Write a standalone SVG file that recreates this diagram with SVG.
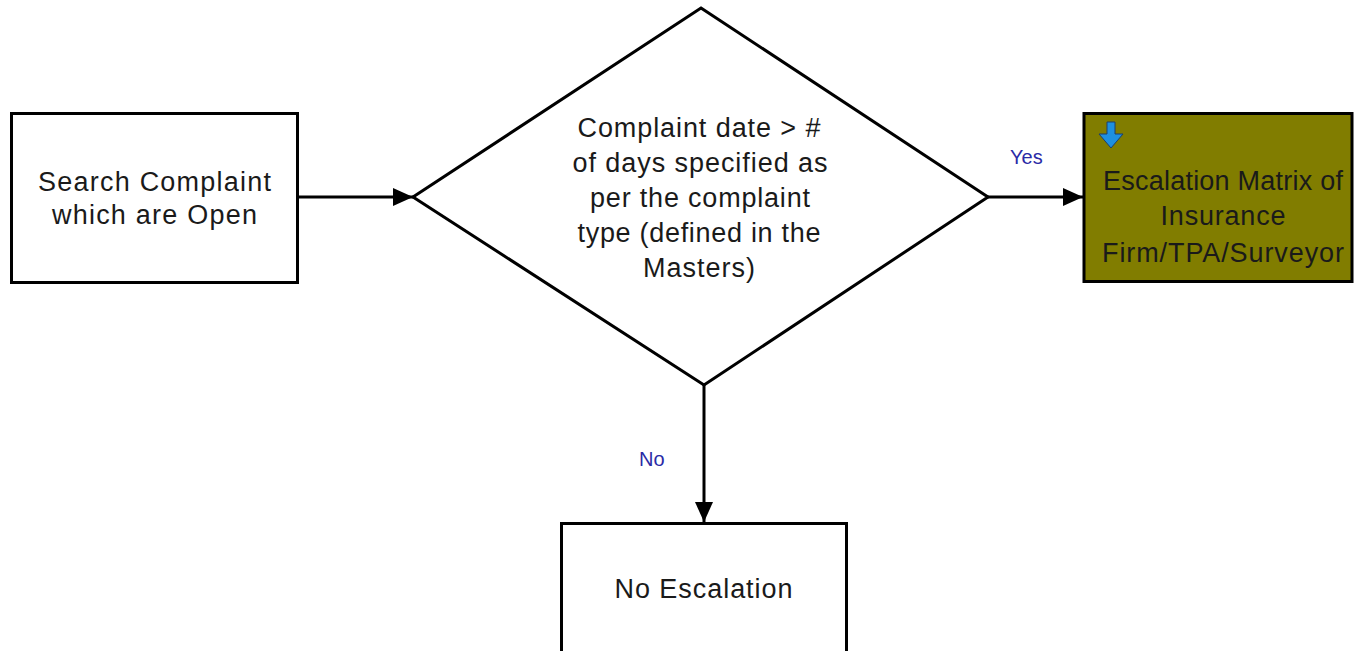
<svg xmlns="http://www.w3.org/2000/svg" width="1355" height="651" viewBox="0 0 1355 651">
  <style>
    .shape { fill: #ffffff; stroke: #000000; stroke-width: 3; }
    .olive { fill: #817d00; stroke: #000000; stroke-width: 3; }
    .lbl { font-family: "Liberation Sans", Arial, sans-serif; font-size: 27px; fill: #1a1a1a; text-anchor: middle; }
    .edge-lbl { font-family: "Liberation Sans", Arial, sans-serif; font-size: 20px; fill: #2a2aa6; }
    .wire { fill: none; stroke: #000000; stroke-width: 3; }
  </style>
  <defs>
    <marker id="arrow" viewBox="0 0 20 18" refX="20" refY="9" markerWidth="20" markerHeight="18" markerUnits="userSpaceOnUse" orient="auto">
      <path d="M0,0 L20,9 L0,18 Z" fill="#000000"/>
    </marker>
  </defs>

  <rect width="1355" height="651" fill="#ffffff"/>

  <!-- connectors -->
  <g id="connectors">
    <line class="wire" x1="298" y1="197" x2="413" y2="197" marker-end="url(#arrow)"/>
    <line class="wire" x1="988" y1="197" x2="1083" y2="197" marker-end="url(#arrow)"/>
    <line class="wire" x1="704" y1="385" x2="704" y2="522" marker-end="url(#arrow)"/>
    <text class="edge-lbl" x="1010" y="164">Yes</text>
    <text class="edge-lbl" x="639" y="466">No</text>
  </g>

  <!-- start: search open complaints -->
  <g id="search">
    <rect class="shape" x="11.5" y="113.5" width="286" height="169"/>
    <text class="lbl" x="154.5" y="191" textLength="233" lengthAdjust="spacing">Search Complaint</text>
    <text class="lbl" x="154.5" y="224" textLength="205" lengthAdjust="spacing">which are Open</text>
  </g>

  <!-- decision -->
  <g id="decision">
    <polygon class="shape" points="701,8 988,197 704,385 413,197"/>
    <text class="lbl" x="699" y="137" textLength="243" lengthAdjust="spacing">Complaint date &gt; #</text>
    <text class="lbl" x="700" y="172" textLength="255" lengthAdjust="spacing">of days specified as</text>
    <text class="lbl" x="700" y="207" textLength="220" lengthAdjust="spacing">per the complaint</text>
    <text class="lbl" x="699" y="242" textLength="243" lengthAdjust="spacing">type (defined in the</text>
    <text class="lbl" x="699" y="277" textLength="112" lengthAdjust="spacing">Masters)</text>
  </g>

  <!-- escalation matrix -->
  <g id="escalation">
    <rect class="olive" x="1084" y="113.5" width="268" height="168"/>
    <polygon points="1107,122 1115,122 1115,134 1123,134 1111,148 1099,134 1107,134" fill="#1e90e0" stroke="#1b3f70" stroke-width="1"/>
    <text class="lbl" x="1223" y="190" textLength="240" lengthAdjust="spacing">Escalation Matrix of</text>
    <text class="lbl" x="1223" y="225" textLength="125" lengthAdjust="spacing">Insurance</text>
    <text class="lbl" x="1223" y="262" textLength="242" lengthAdjust="spacing">Firm/TPA/Surveyor</text>
  </g>

  <!-- no escalation -->
  <g id="no-escalation">
    <rect class="shape" x="561.5" y="523.5" width="285" height="170"/>
    <text class="lbl" x="703.5" y="598" textLength="178" lengthAdjust="spacing">No Escalation</text>
  </g>
</svg>
